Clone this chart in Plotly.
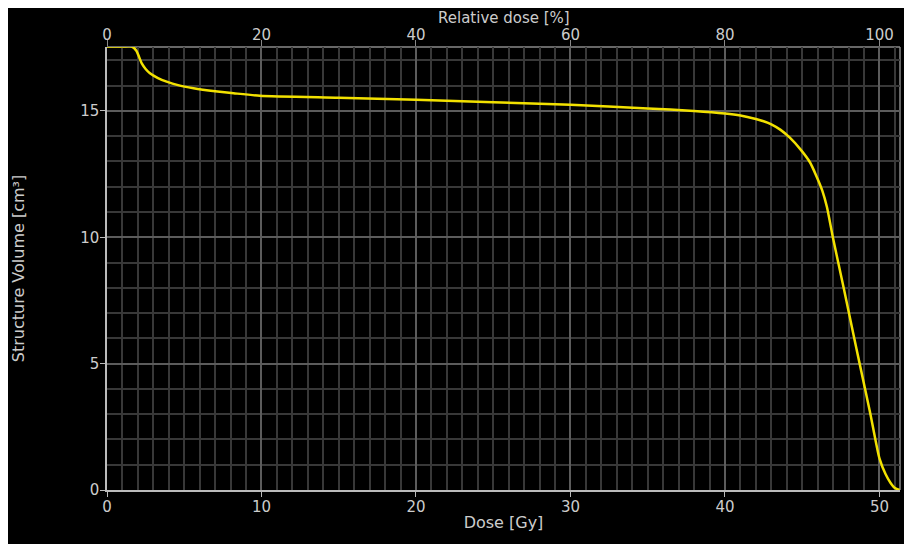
import plotly.graph_objects as go

# Dose-volume histogram data
dose_gy = [0, 1.0, 1.6, 1.9, 2.25, 2.5, 2.78, 3.3, 3.86, 4.6, 5.6, 7.0, 8.2, 9.9, 15, 20, 25, 30, 35,
           38, 40, 41, 42, 42.5, 43, 43.6, 44.2, 44.9, 45.5, 45.9, 46.3, 46.6, 47.0, 47.7, 48.3,
           48.7, 49.4, 50.0, 50.4, 50.7, 51.0, 51.3]
volume_cm3 = [17.55, 17.55, 17.55, 17.38, 16.88, 16.66, 16.49, 16.3, 16.16, 16.02, 15.9, 15.78, 15.7, 15.6,
              15.52, 15.44, 15.34, 15.24, 15.1, 15.0, 14.9, 14.82, 14.68, 14.59, 14.47, 14.25, 13.94,
              13.47, 12.97, 12.45, 11.85, 11.2, 9.95, 7.95, 6.2, 5.05, 3.05, 1.25, 0.62, 0.3, 0.08, 0.0]
prescription_gy = 50.0
rel_dose = [d / prescription_gy * 100 for d in dose_gy]

x_ticks = [0, 10, 20, 30, 40, 50]
top_ticks = [0, 20, 40, 60, 80, 100]
y_ticks = [0, 5, 10, 15]

X_MAX = 51.33
Y_MAX = 17.53

txt = "#cccccc"
tfont = dict(family="DejaVu Sans", size=15, color=txt)
hfont = dict(family="DejaVu Sans", size=16, color=txt)
top_font = dict(family="DejaVu Sans", size=15, color=txt)

fig = go.Figure()
fig.add_trace(go.Scatter(x=dose_gy, y=volume_cm3, mode="lines", line_shape="spline",
                         line=dict(color="#f2e100", width=2.5, smoothing=0.6), showlegend=False))
fig.add_trace(go.Scatter(x=rel_dose, y=volume_cm3, mode="lines", xaxis="x2",
                         line=dict(color="rgba(0,0,0,0)", width=0), hoverinfo="skip",
                         showlegend=False))

W, H = 904, 536
L, R, T, B = 99, 12, 39, 54
PH = H - T - B

fig.update_layout(
    width=W, height=H,
    margin=dict(l=L, r=R, t=T, b=B, autoexpand=False),
    paper_bgcolor="black", plot_bgcolor="black",
    font=tfont,
    xaxis=dict(range=[0, X_MAX], tickvals=x_ticks, ticks="outside", ticklen=5, tickcolor="#bbbbbb",
               showline=True, linecolor="#bbbbbb", linewidth=1.5, automargin=False,
               showgrid=True, gridcolor="#5c5c5c", gridwidth=1.5,
               minor=dict(dtick=1, showgrid=True, gridcolor="#383838", gridwidth=1.5),
               zeroline=False, tickfont=tfont, ticklabelstandoff=-3,
               title=dict(text="Dose [Gy]", font=hfont, standoff=2)),
    xaxis2=dict(range=[0, X_MAX / prescription_gy * 100], tickvals=top_ticks, overlaying="x",
                side="top", ticks="outside", ticklen=6, tickcolor="#888888", automargin=False,
                showline=False, showgrid=False, zeroline=False, tickfont=tfont,
                ticklabelstandoff=-6),
    yaxis=dict(range=[0, Y_MAX], tickvals=y_ticks, ticks="outside", ticklen=5, tickcolor="#bbbbbb",
               showline=True, linecolor="#bbbbbb", linewidth=1.5, automargin=False,
               showgrid=True, gridcolor="#5c5c5c", gridwidth=1.5,
               minor=dict(dtick=1, showgrid=True, gridcolor="#383838", gridwidth=1.5),
               zeroline=False, tickfont=tfont, ticklabelstandoff=-2,
               title=dict(text="Structure Volume [cm³]", font=hfont, standoff=52)),
    annotations=[dict(text="Relative dose [%]", xref="paper", yref="paper", x=0.5,
                      y=1 + (T - 10) / PH, xanchor="center", yanchor="middle",
                      showarrow=False, font=top_font)],
)

shapes = [
    # top and right border of plot area
    dict(type="line", xref="paper", yref="paper", x0=0, x1=1, y0=1, y1=1,
         line=dict(color="#8a8a8a", width=1.5), layer="below"),
    dict(type="line", xref="paper", yref="paper", x0=1, x1=1, y0=0, y1=1,
         line=dict(color="#8a8a8a", width=1.5), layer="below"),
]
fig.update_layout(shapes=shapes)

fig.write_html("out.html")
